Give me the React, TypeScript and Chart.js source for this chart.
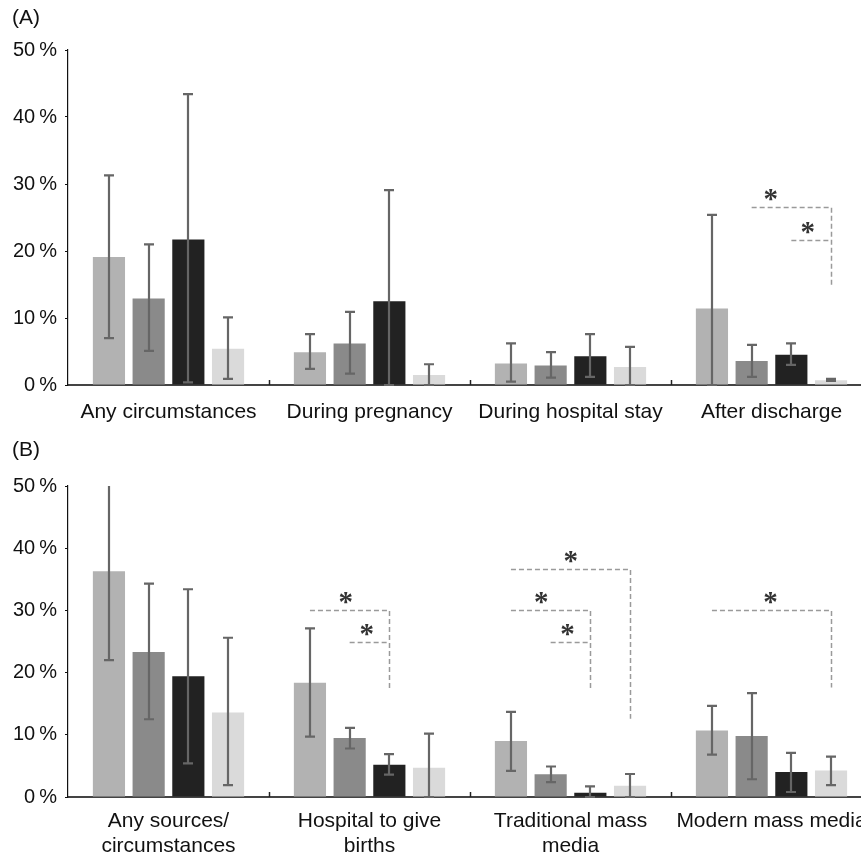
import React, { useEffect, useRef } from 'react';
import { Chart, registerables } from 'chart.js';

Chart.register(...registerables);

const FONT = '"Liberation Sans", Arial, Helvetica, sans-serif';

// ---------- data ----------
const seriesNames = ['Group 1', 'Group 2', 'Group 3', 'Group 4'];
const seriesColors = ['#b2b2b2', '#8a8a8a', '#222222', '#dadada'];
const yTickValues = [0, 10, 20, 30, 40, 50];

// Panel A
const categoriesA = ['Any circumstances', 'During pregnancy', 'During hospital stay', 'After discharge'];
const a1 = [19.1, 4.9, 3.2, 11.4];
const a1Lo = [7.0, 2.4, 0.5, 0.0];
const a1Hi = [31.3, 7.6, 6.2, 25.4];
const a2 = [12.9, 6.2, 2.9, 3.6];
const a2Lo = [5.1, 1.7, 1.1, 1.2];
const a2Hi = [21.0, 10.9, 4.9, 6.0];
const a3 = [21.7, 12.5, 4.3, 4.5];
const a3Lo = [0.4, 0.0, 1.2, 3.0];
const a3Hi = [43.4, 29.1, 7.6, 6.2];
const a4 = [5.4, 1.5, 2.7, 0.7];
const a4Lo = [0.9, 0.0, 0.0, 0.6];
const a4Hi = [10.1, 3.1, 5.7, 0.9];
// significance brackets: category, from bar, to bar, level %, bottom of drop %, star position along line
const bracketsA = [
  { cat: 3, from: 1, to: 3, level: 26.5, bottom: 14.9, star: 0.24 },
  { cat: 3, from: 2, to: 3, level: 21.7, bottom: 21.7, star: 0.41 },
];

// Panel B
const categoriesB = [
  ['Any sources/', 'circumstances'],
  ['Hospital to give', 'births'],
  ['Traditional mass', 'media'],
  ['Modern mass media'],
];
const b1 = [36.3, 18.35, 9.0, 10.7];
const b1Lo = [22.0, 9.7, 4.2, 6.8];
const b1Hi = [51.0, 27.1, 13.7, 14.65];
const b2 = [23.3, 9.5, 3.65, 9.8];
const b2Lo = [12.5, 7.8, 2.4, 2.85];
const b2Hi = [34.3, 11.1, 4.9, 16.7];
const b3 = [19.4, 5.2, 0.7, 4.0];
const b3Lo = [5.4, 3.6, 0.0, 0.8];
const b3Hi = [33.4, 6.9, 1.7, 7.1];
const b4 = [13.6, 4.7, 1.8, 4.25];
const b4Lo = [1.9, 0.0, 0.0, 1.9];
const b4Hi = [25.6, 10.2, 3.7, 6.5];
const bracketsB = [
  { cat: 1, from: 0, to: 2, level: 30.0, bottom: 17.4, star: 0.45 },
  { cat: 1, from: 1, to: 2, level: 25.0, bottom: 25.0, star: 0.43 },
  { cat: 2, from: 0, to: 3, level: 36.7, bottom: 12.6, star: 0.5 },
  { cat: 2, from: 0, to: 2, level: 30.0, bottom: 17.4, star: 0.38 },
  { cat: 2, from: 1, to: 2, level: 25.0, bottom: 25.0, star: 0.42 },
  { cat: 3, from: 0, to: 3, level: 30.0, bottom: 17.6, star: 0.49 },
];

// ---------- plugin ----------
const annotPlugin = {
  id: 'annot',
  afterDatasetsDraw(chart: any, _args: any, opts: any) {
    const { ctx, chartArea } = chart;
    const xs = chart.scales.x;
    const ys = chart.scales.y;

    // error bars
    ctx.save();
    ctx.beginPath();
    ctx.rect(chartArea.left, chartArea.top, chartArea.right - chartArea.left, chartArea.bottom - chartArea.top + 3);
    ctx.clip();
    ctx.strokeStyle = '#666666';
    ctx.lineWidth = 2.2;
    ctx.lineCap = 'butt';
    chart.data.datasets.forEach((ds: any, i: number) => {
      const meta = chart.getDatasetMeta(i);
      meta.data.forEach((el: any, j: number) => {
        const xp = Math.round(el.x);
        const yh = ys.getPixelForValue(ds.errHi[j]);
        const yl = ys.getPixelForValue(ds.errLo[j]);
        ctx.beginPath();
        ctx.moveTo(xp, yh);
        ctx.lineTo(xp, yl);
        ctx.moveTo(xp - 5, yh);
        ctx.lineTo(xp + 5, yh);
        ctx.moveTo(xp - 5, yl);
        ctx.lineTo(xp + 5, yl);
        ctx.stroke();
      });
    });
    ctx.restore();

    // category separator ticks
    ctx.save();
    ctx.strokeStyle = '#222';
    ctx.lineWidth = 1.5;
    const n = chart.data.labels.length;
    for (let i = 1; i < n; i++) {
      const xp = Math.round((xs.getPixelForValue(i - 1) + xs.getPixelForValue(i)) / 2) + 0.5;
      ctx.beginPath();
      ctx.moveTo(xp, chartArea.bottom);
      ctx.lineTo(xp, chartArea.bottom - 5);
      ctx.stroke();
    }
    ctx.restore();

    // brackets
    ctx.save();
    (opts.brackets || []).forEach((b: any) => {
      const m1 = chart.getDatasetMeta(b.from).data[b.cat];
      const m2 = chart.getDatasetMeta(b.to).data[b.cat];
      const x1 = m1.x;
      const x2 = Math.round(m2.x) + 0.5;
      const yl = Math.round(ys.getPixelForValue(b.level)) + 0.5;
      const yb = ys.getPixelForValue(b.bottom);
      ctx.strokeStyle = '#9a9a9a';
      ctx.lineWidth = 1.5;
      ctx.setLineDash([5, 3]);
      ctx.beginPath();
      ctx.moveTo(x1, yl);
      ctx.lineTo(x2, yl);
      if (yb > yl + 1) ctx.lineTo(x2, yb);
      ctx.stroke();
      ctx.setLineDash([]);
      // star
      const sx = x1 + (x2 - x1) * b.star;
      const sy = yl - 13;
      ctx.fillStyle = '#333';
      ctx.font = 'bold 29px "Liberation Serif", "Times New Roman", serif';
      ctx.textAlign = 'center';
      ctx.textBaseline = 'alphabetic';
      const mt = ctx.measureText('*');
      const asc = mt.actualBoundingBoxAscent || 10;
      const desc = mt.actualBoundingBoxDescent || 0;
      ctx.fillText('*', sx, sy + (asc - desc) / 2);
    });
    ctx.restore();

    // panel label
    if (opts.panel) {
      ctx.save();
      ctx.fillStyle = '#111';
      ctx.font = '21px ' + FONT;
      ctx.textAlign = 'left';
      ctx.textBaseline = 'middle';
      ctx.fillText(opts.panel, 12, opts.panelY);
      ctx.restore();
    }
  },
};

function makeConfig(labels: any[], vals: number[][], lo: number[][], hi: number[][], brackets: any[], panel: string, panelY: number, topPad: number, xHeight: number, xPad: number) {
  return {
    type: 'bar',
    data: {
      labels,
      datasets: vals.map((v, i) => ({
        label: seriesNames[i],
        data: v,
        errLo: lo[i],
        errHi: hi[i],
        backgroundColor: seriesColors[i],
        borderWidth: 0,
        categoryPercentage: 0.79,
        barPercentage: 0.81,
      })),
    },
    options: {
      responsive: false,
      animation: false,
      events: [],
      layout: { padding: { top: topPad, right: 8, bottom: 0, left: 0 } },
      plugins: {
        legend: { display: false },
        title: { display: false },
        tooltip: { enabled: false },
        annot: { brackets, panel, panelY },
      },
      scales: {
        x: {
          type: 'category',
          offset: true,
          grid: { display: false, drawTicks: false },
          border: { display: true, color: '#444', width: 2 },
          ticks: {
            autoSkip: false,
            maxRotation: 0,
            minRotation: 0,
            padding: xPad,
            color: '#111',
            font: { family: FONT, size: 21, lineHeight: 25 / 21 },
          },
          afterFit: (s: any) => {
            s.height = xHeight;
          },
        },
        y: {
          min: 0,
          max: 50,
          afterBuildTicks: (s: any) => {
            s.ticks = yTickValues.map((v) => ({ value: v }));
          },
          grid: { display: true, drawOnChartArea: false, drawTicks: true, tickLength: 3, color: '#111', lineWidth: 1 },
          border: { display: true, color: '#111', width: 1.2 },
          ticks: {
            padding: 8,
            color: '#111',
            font: { family: FONT, size: 20 },
            callback: (v: any) => v + '\u2009%',
          },
          afterFit: (s: any) => {
            s.width = 68;
          },
        },
      },
    },
    plugins: [annotPlugin],
  } as any;
}

function Panel(props: { config: any; top: number }) {
  const ref = useRef<HTMLCanvasElement>(null);
  useEffect(() => {
    if (!ref.current) return;
    const chart = new Chart(ref.current, props.config);
    return () => chart.destroy();
  }, []);
  return (
    <div style={{ position: 'absolute', left: 0, top: props.top, width: 880, height: 430 }}>
      <canvas ref={ref} width={880} height={430} style={{ display: 'block' }} />
    </div>
  );
}

export default function App() {
  const cfgA = makeConfig(
    categoriesA,
    [a1, a2, a3, a4],
    [a1Lo, a2Lo, a3Lo, a4Lo],
    [a1Hi, a2Hi, a3Hi, a4Hi],
    bracketsA,
    '(A)',
    18,
    50,
    45,
    15
  );
  const cfgB = makeConfig(
    categoriesB,
    [b1, b2, b3, b4],
    [b1Lo, b2Lo, b3Lo, b4Lo],
    [b1Hi, b2Hi, b3Hi, b4Hi],
    bracketsB,
    '(B)',
    20,
    56,
    63,
    12
  );
  return (
    <div style={{ position: 'fixed', left: 0, top: 0, width: 861, height: 860, overflow: 'hidden', background: '#fff' }}>
      <Panel config={cfgA} top={0} />
      <Panel config={cfgB} top={430} />
    </div>
  );
}
